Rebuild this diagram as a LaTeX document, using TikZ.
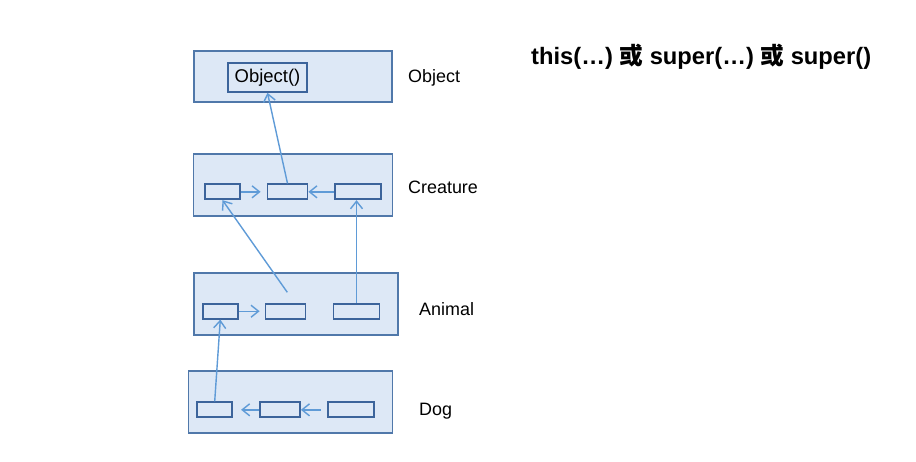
\documentclass[tikz,border=0pt]{standalone}
\usepackage{fontspec}
\setmainfont{Liberation Sans}
\newfontfamily\cjk{Noto Sans CJK SC}
\usepackage{tikz}
\usetikzlibrary{arrows.meta, positioning, calc}
\definecolor{layerblue}{RGB}{80,120,170}
\definecolor{slotblue}{RGB}{60,100,155}
\definecolor{linkblue}{RGB}{95,155,215}
\definecolor{boxfill}{RGB}{221,232,246}
\newcommand{\px}{0.02cm}

\begin{document}
\begin{tikzpicture}[
  x=0.02cm, y=-0.02cm,
  layer/.style={draw=layerblue, fill=boxfill, line width=1pt, inner sep=0pt},
  slot/.style={draw=slotblue, fill=boxfill, line width=1pt, inner sep=0pt,
    minimum height=15*\px},
  tag/.style={anchor=west, font=\fontsize{10.2}{12}\selectfont},
  arr/.style={-{Straight Barb[length=1.5mm, width=2.4mm]}, linkblue, line width=0.8pt},
]
  \useasboundingbox (0,0) rectangle (916,461);

  % class layers
  \node[layer, minimum width=198*\px, minimum height=51*\px] (object)   at (293,76.5) {};
  \node[layer, minimum width=199*\px, minimum height=62*\px] (creature) at (293,185)  {};
  \node[layer, minimum width=204*\px, minimum height=62*\px] (animal)   at (296,303.7) {};
  \node[layer, minimum width=204*\px, minimum height=62*\px] (dog)      at (290.5,402) {};

  % constructors
  \node[slot, minimum width=79*\px, minimum height=29*\px, font=\fontsize{10.5}{12}\selectfont]
    (objcall) at (267.5,77.5) {Object()};
  \node[slot, minimum width=35*\px] (cre1) at (222.5,191.8) {};
  \node[slot, minimum width=40*\px] (cre2) at (287.5,191.8) {};
  \node[slot, minimum width=46*\px] (cre3) at (358.3,191.8) {};
  \node[slot, minimum width=35*\px] (ani1) at (220.3,311.2) {};
  \node[slot, minimum width=40*\px] (ani2) at (285.5,311.2) {};
  \node[slot, minimum width=46*\px] (ani3) at (356.5,311.2) {};
  \node[slot, minimum width=35*\px] (dog1) at (214.7,409.8) {};
  \node[slot, minimum width=40*\px] (dog2) at (280,409.8)   {};
  \node[slot, minimum width=46*\px] (dog3) at (350.7,409.8) {};
  \coordinate (anitail) at (287.3,292.3);

  % labels
  \node[tag] (lobject)   at (402,78)  {Object};
  \node[tag] (lcreature) at (402,187) {Creature};
  \node[tag] (lanimal)   at (413,309) {Animal};
  \node[tag] (ldog)      at (413,411) {Dog};
  \node[anchor=west, font=\fontsize{13.5}{16}\selectfont\bfseries] (title) at (525,57)
    {this(…) {\cjk 或} super(…) {\cjk 或} super()};

  % calls
  \draw[arr, shorten >=6*\px] (cre1) -- (cre2);
  \draw[arr] (cre3) -- (cre2);
  \draw[arr] (cre2.north) -- (objcall.south);
  \draw[arr, shorten >=5*\px] (ani1) -- (ani2);
  \draw[arr] (anitail) -- (cre1.south);
  \draw[arr] (ani3.north) -- (ani3.north |- cre3.south);
  \draw[arr, shorten >=8*\px] (dog2) -- (dog1);
  \draw[arr, shorten <=6*\px] (dog3) -- (dog2);
  \draw[arr] (dog1.north) -- (ani1.south);
\end{tikzpicture}
\end{document}
